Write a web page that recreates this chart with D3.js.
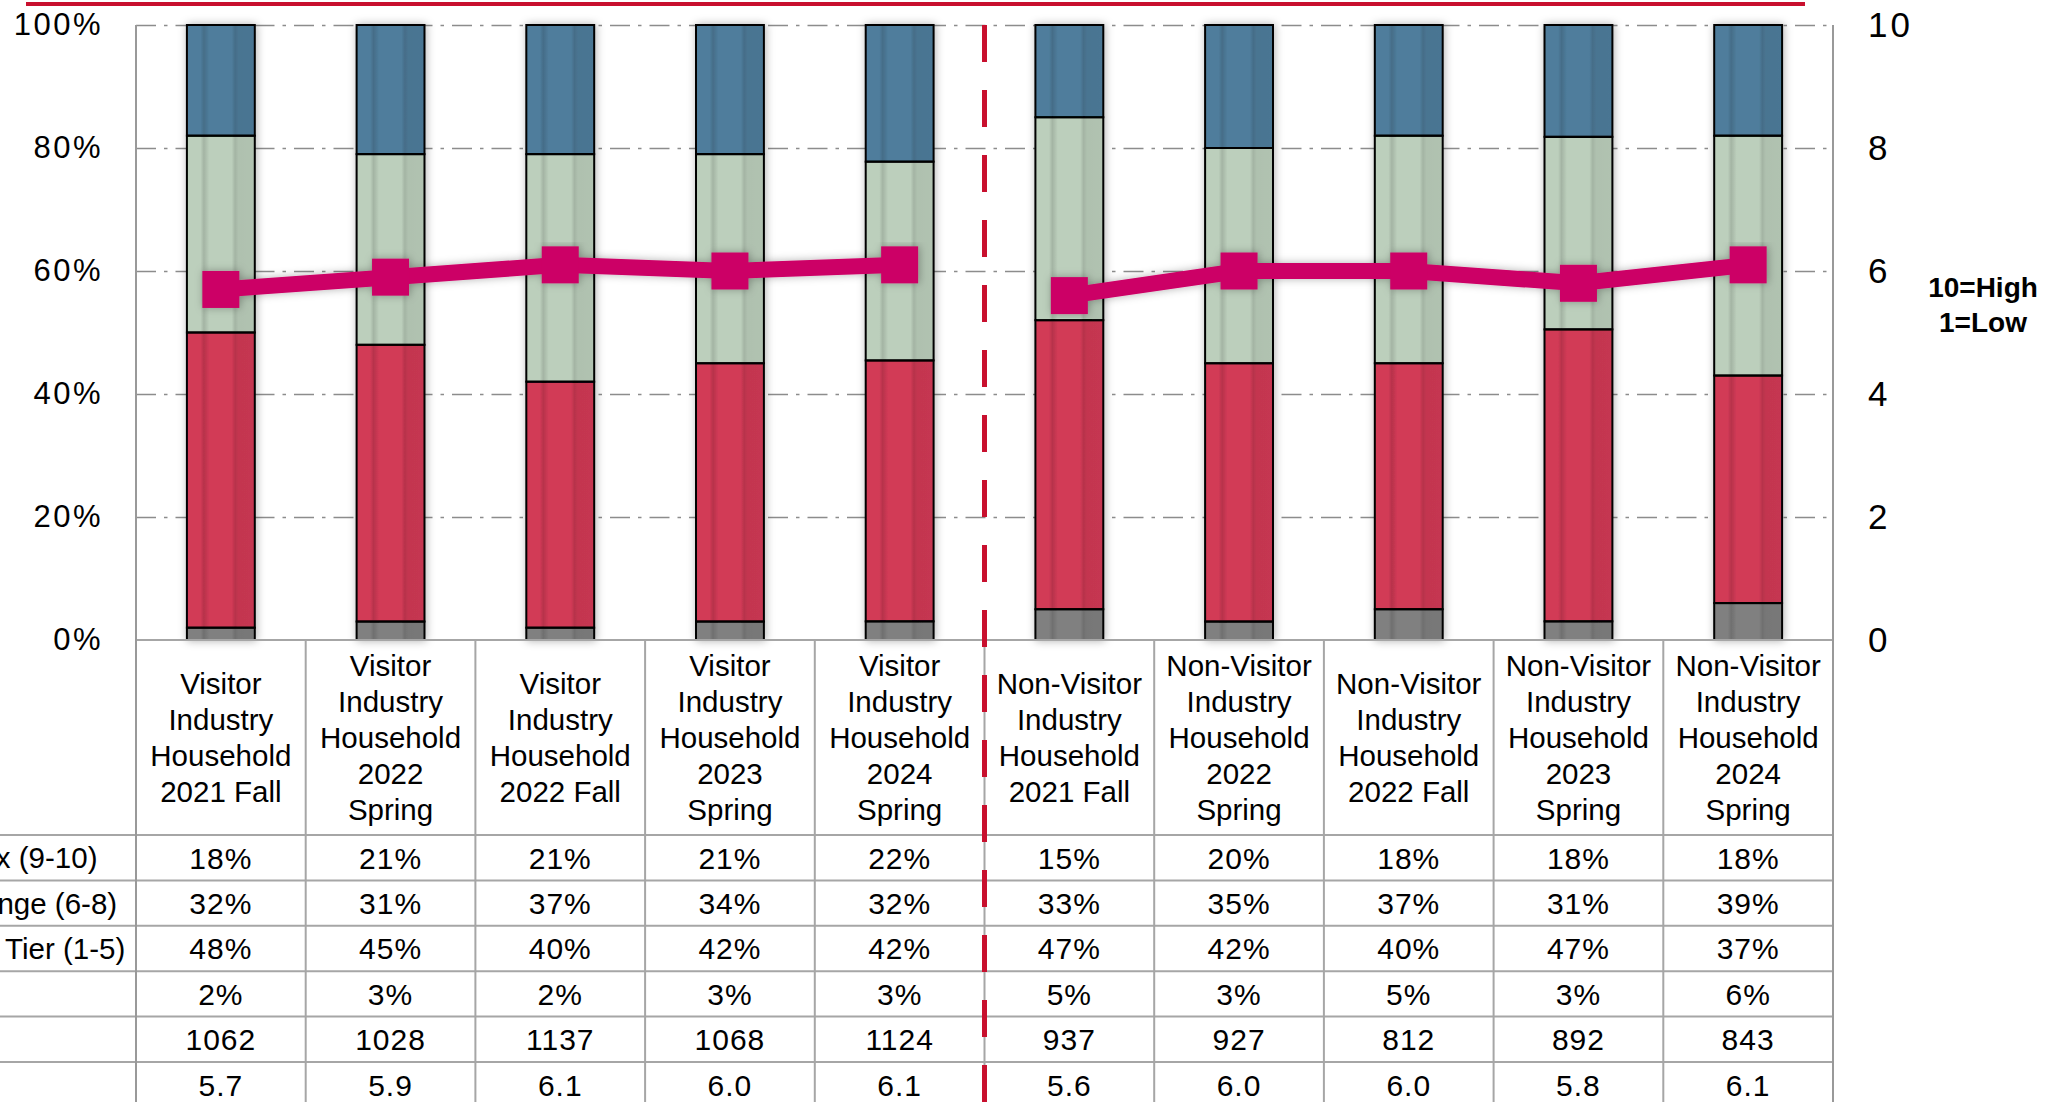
<!DOCTYPE html>
<html>
<head>
<meta charset="utf-8">
<script src="https://cdn.jsdelivr.net/npm/d3@7"></script>
<style>
  body { margin: 0; background: #fff; }
  svg { display: block; font-family: "Liberation Sans", Arial, sans-serif; }
</style>
</head>
<body>
<svg id="chart" width="2062" height="1102"></svg>
<script>
// groups along the x axis (also the table header)
const groups = [
  'Visitor Industry Household 2021 Fall',
  'Visitor Industry Household 2022 Spring',
  'Visitor Industry Household 2022 Fall',
  'Visitor Industry Household 2023 Spring',
  'Visitor Industry Household 2024 Spring',
  'Non-Visitor Industry Household 2021 Fall',
  'Non-Visitor Industry Household 2022 Spring',
  'Non-Visitor Industry Household 2022 Fall',
  'Non-Visitor Industry Household 2023 Spring',
  'Non-Visitor Industry Household 2024 Spring'
];

// shares in percent, as printed in the table
const topBox    = [18, 21, 21, 21, 22, 15, 20, 18, 18, 18];
const midRange  = [32, 31, 37, 34, 32, 33, 35, 37, 31, 39];
const lowerTier = [48, 45, 40, 42, 42, 47, 42, 40, 47, 37];
const dontKnow  = [2, 3, 2, 3, 3, 5, 3, 5, 3, 6];
const sampleSize = [1062, 1028, 1137, 1068, 1124, 937, 927, 812, 892, 843];
const meanScore  = [5.7, 5.9, 6.1, 6.0, 6.1, 5.6, 6.0, 6.0, 5.8, 6.1];

const rowLabels = ['Top Box (9-10)', 'Mid Range (6-8)', 'Bottom Tier (1-5)', '', '', ''];
const leftTicks = [0, 0.2, 0.4, 0.6, 0.8, 1];
const rightTicks = [0, 2, 4, 6, 8, 10];
const scaleNote = ['10=High', '1=Low'];

const seriesKeys = ['dk', 'lower', 'mid', 'top'];
const seriesColors = ['#808080', '#D23A56', '#BCCFBC', '#4F7D9C'];

const svg = d3.select('#chart');

const plot = { left: 136, right: 1833, top: 25, bottom: 640 };
const headerBottom = 835;
const rowH = 45.4;

const colScale = d3.scaleBand().domain(groups).range([plot.left, plot.right]);
const barScale = d3.scaleBand().domain(groups).range([plot.left, plot.right])
  .paddingInner(0.6).paddingOuter(0.3);
const yLeft = d3.scaleLinear().domain([0, 1]).range([plot.bottom, plot.top]);
const yRight = d3.scaleLinear().domain([0, 10]).range([plot.bottom, plot.top]);

// defs: stripes that give the bars their rounded look, and a soft shadow
const defs = svg.append('defs');
const grad = defs.append('linearGradient').attr('id', 'stripes')
  .attr('x1', 0).attr('x2', 1).attr('y1', 0).attr('y2', 0);
[[0, 0], [0.2, 0], [0.25, 0.13], [0.3, 0.05], [0.33, 0], [0.66, 0],
 [0.71, 0.13], [0.76, 0.07], [1, 0.06]].forEach(([o, a]) => {
  grad.append('stop').attr('offset', o).attr('stop-color', '#000').attr('stop-opacity', a);
});
const shadow = defs.append('filter').attr('id', 'shadow')
  .attr('x', '-30%').attr('y', '-5%').attr('width', '160%').attr('height', '110%');
shadow.append('feDropShadow').attr('dx', 1).attr('dy', 0).attr('stdDeviation', 4)
  .attr('flood-color', '#000').attr('flood-opacity', 0.3);

// red line across the top
svg.append('line')
  .attr('x1', 26).attr('x2', 1805).attr('y1', 4).attr('y2', 4)
  .attr('stroke', '#C8102E').attr('stroke-width', 4);

// gridlines
svg.append('g')
  .attr('transform', `translate(${plot.left},0)`)
  .call(d3.axisLeft(yLeft).tickValues(leftTicks.slice(1)).tickFormat('')
    .tickSize(-(plot.right - plot.left)))
  .call(g => g.select('.domain').remove())
  .call(g => g.selectAll('.tick line')
    .attr('stroke', '#8c8c8c').attr('stroke-width', 1.5)
    .attr('stroke-dasharray', '20,8,3.5,8'));

// left axis labels
svg.append('g')
  .attr('transform', `translate(${plot.left},0)`)
  .call(d3.axisLeft(yLeft).tickValues(leftTicks).tickFormat(d3.format('.0%'))
    .tickSize(0).tickPadding(33))
  .call(g => g.select('.domain').remove())
  .call(g => g.selectAll('text')
    .attr('font-family', '"Liberation Sans", Arial, sans-serif')
    .attr('font-size', 31).attr('fill', '#000')
    .style('letter-spacing', '2.5px'));

// right axis labels
svg.append('g')
  .attr('transform', `translate(${plot.right},0)`)
  .call(d3.axisRight(yRight).tickValues(rightTicks).tickSize(0).tickPadding(35))
  .call(g => g.select('.domain').remove())
  .call(g => g.selectAll('text')
    .attr('font-family', '"Liberation Sans", Arial, sans-serif')
    .attr('font-size', 35).attr('fill', '#000')
    .style('letter-spacing', '3px'));

svg.append('text')
  .attr('x', 1983).attr('y', 297)
  .attr('text-anchor', 'middle')
  .attr('font-size', 28).attr('font-weight', 'bold')
  .selectAll('tspan')
  .data(scaleNote)
  .join('tspan')
  .attr('x', 1983)
  .attr('dy', (d, i) => i ? 35 : 0)
  .text(d => d);

// stacked bars
const rows = groups.map((g, i) => ({
  group: g, dk: dontKnow[i], lower: lowerTier[i], mid: midRange[i], top: topBox[i]
}));
const stacked = d3.stack().keys(seriesKeys).offset(d3.stackOffsetExpand)(rows);
const color = d3.scaleOrdinal().domain(seriesKeys).range(seriesColors);

const bars = svg.append('g').attr('class', 'bars')
  .selectAll('g')
  .data(groups)
  .join('g')
  .attr('filter', 'url(#shadow)');

bars.each(function (grp, i) {
  const g = d3.select(this);
  g.selectAll('rect.seg')
    .data(stacked.map(s => ({ key: s.key, v: s[i] })))
    .join('rect')
    .attr('class', 'seg')
    .attr('x', barScale(grp))
    .attr('width', barScale.bandwidth())
    .attr('y', d => yLeft(d.v[1]))
    .attr('height', d => yLeft(d.v[0]) - yLeft(d.v[1]))
    .attr('fill', d => color(d.key));
  g.append('rect')
    .attr('x', barScale(grp))
    .attr('width', barScale.bandwidth())
    .attr('y', yLeft(1))
    .attr('height', yLeft(0) - yLeft(1))
    .attr('fill', 'url(#stripes)');
  g.selectAll('rect.outline')
    .data(stacked.map(s => s[i]))
    .join('rect')
    .attr('class', 'outline')
    .attr('x', barScale(grp))
    .attr('width', barScale.bandwidth())
    .attr('y', d => yLeft(d[1]))
    .attr('height', d => yLeft(d[0]) - yLeft(d[1]))
    .attr('fill', 'none')
    .attr('stroke', '#000')
    .attr('stroke-width', 2);
});

// table grid
const tableBottom = 1102;
const grid = svg.append('g').attr('stroke', '#a6a6a6').attr('stroke-width', 2);
grid.append('line')
  .attr('x1', plot.left).attr('x2', plot.right)
  .attr('y1', plot.bottom).attr('y2', plot.bottom);
grid.selectAll('line.hrow')
  .data(d3.range(rowLabels.length + 1))
  .join('line')
  .attr('class', 'hrow')
  .attr('x1', 0).attr('x2', plot.right)
  .attr('y1', i => headerBottom + i * rowH)
  .attr('y2', i => headerBottom + i * rowH);
grid.selectAll('line.vcol')
  .data(groups.slice(1))
  .join('line')
  .attr('class', 'vcol')
  .attr('x1', d => colScale(d)).attr('x2', d => colScale(d))
  .attr('y1', plot.bottom).attr('y2', tableBottom);
grid.selectAll('line.edge')
  .data([plot.left, plot.right])
  .join('line')
  .attr('class', 'edge')
  .attr('stroke', '#999')
  .attr('x1', d => d).attr('x2', d => d)
  .attr('y1', plot.top).attr('y2', tableBottom);

// header text, wrapped to the column
const maxW = colScale.bandwidth() - 14;
const headMid = (plot.bottom + headerBottom) / 2;
groups.forEach(grp => {
  const cx = colScale(grp) + colScale.bandwidth() / 2;
  const t = svg.append('text')
    .attr('text-anchor', 'middle')
    .attr('font-size', 29.5)
    .attr('fill', '#000');
  const words = grp.split(' ');
  const lines = [];
  let cur = [];
  const probe = t.append('tspan');
  words.forEach(w => {
    const test = cur.concat(w).join(' ');
    probe.text(test);
    if (cur.length && probe.node().getComputedTextLength() > maxW) {
      lines.push(cur.join(' '));
      cur = [w];
    } else {
      cur.push(w);
    }
  });
  lines.push(cur.join(' '));
  probe.remove();
  const lh = 36;
  t.selectAll('tspan')
    .data(lines)
    .join('tspan')
    .attr('x', cx)
    .attr('y', (d, i) => headMid + (i - (lines.length - 1) / 2) * lh + 10.5)
    .text(d => d);
});

// table values
const pct = d => d + '%';
const tableRows = [
  topBox.map(pct),
  midRange.map(pct),
  lowerTier.map(pct),
  dontKnow.map(pct),
  sampleSize.map(String),
  meanScore.map(d3.format('.1f'))
];
tableRows.forEach((vals, r) => {
  const cy = headerBottom + r * rowH + rowH / 2;
  svg.append('g')
    .selectAll('text')
    .data(vals)
    .join('text')
    .attr('x', (d, i) => colScale(groups[i]) + colScale.bandwidth() / 2)
    .attr('y', cy)
    .attr('dy', '0.36em')
    .attr('text-anchor', 'middle')
    .attr('font-size', 30)
    .style('letter-spacing', '1px')
    .text(d => d);
  svg.append('text')
    .attr('x', -96)
    .attr('y', cy)
    .attr('dy', '0.36em')
    .attr('font-size', 29.5)
    .text(rowLabels[r]);
});

// divider between visitor and non-visitor households
const isNonVisitor = g => g.startsWith('Non-Visitor');
const splitX = colScale(groups.find(isNonVisitor));
svg.append('line')
  .attr('x1', splitX).attr('x2', splitX)
  .attr('y1', plot.top).attr('y2', tableBottom)
  .attr('stroke', '#C8102E').attr('stroke-width', 5)
  .attr('stroke-dasharray', '37,28');

// mean score line (right axis), one run per household type
const points = groups.map((g, i) => ({
  x: barScale(g) + barScale.bandwidth() / 2,
  y: yRight(meanScore[i]),
  type: isNonVisitor(g) ? 'non' : 'visitor'
}));
const lineGen = d3.line().x(d => d.x).y(d => d.y);
const meanG = svg.append('g').attr('filter', 'url(#shadow)');
meanG.selectAll('path')
  .data(d3.groups(points, d => d.type).map(d => d[1]))
  .join('path')
  .attr('d', lineGen)
  .attr('fill', 'none')
  .attr('stroke', '#CC0066')
  .attr('stroke-width', 16);
meanG.selectAll('rect')
  .data(points)
  .join('rect')
  .attr('x', d => d.x - 18.5)
  .attr('y', d => d.y - 18.5)
  .attr('width', 37)
  .attr('height', 37)
  .attr('fill', '#CC0066');
</script>
</body>
</html>
